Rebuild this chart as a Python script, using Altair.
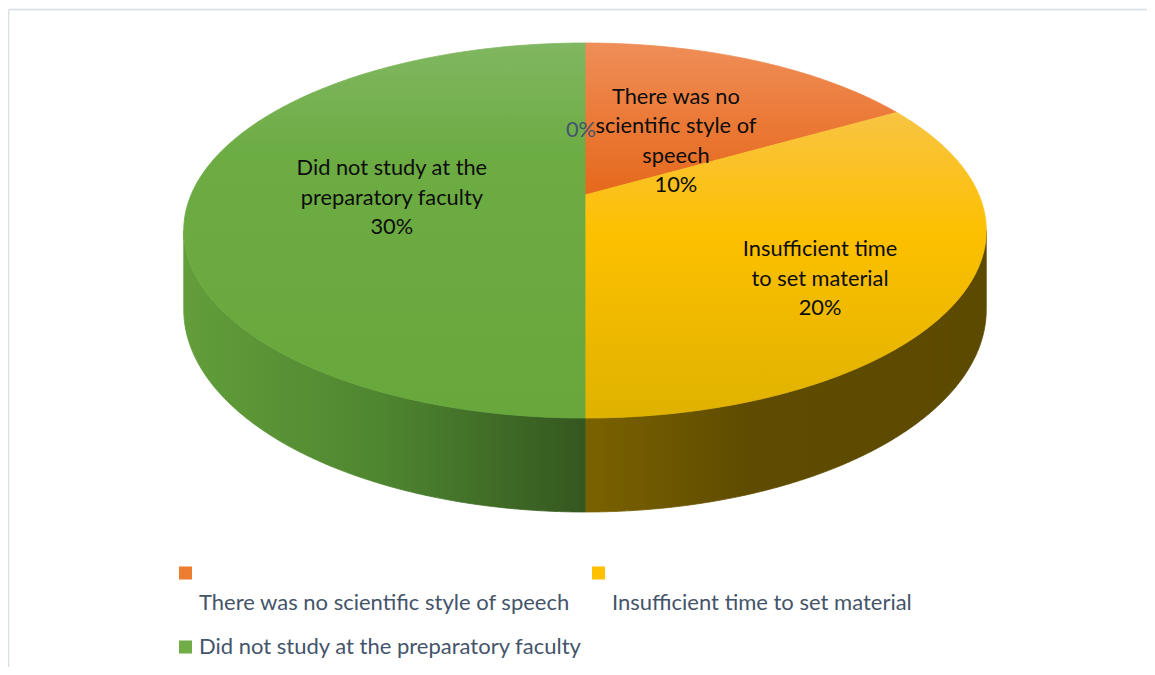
import math
import pandas as pd
import altair as alt

# ---------------- data ----------------
categories = [
    "",
    "There was no scientific style of speech",
    "Insufficient time to set material",
    "Did not study at the preparatory faculty",
]
values = [0, 10, 20, 30]
pct_labels = ["0%", "10%", "20%", "30%"]
label_lines = [
    [],
    ["There was no", "scientific style of", "speech"],
    ["Insufficient time", "to set material"],
    ["Did not study at the", "preparatory faculty"],
]
legend_entries = [1, 2, 3]  # categories shown in the legend

# ---------------- style / layout ----------------
FONT = "Lato"
FS = 21.8
LEG_FS = 22
LH = 29.5
top_fill = {
    1: [("#EF8E58", 0.0), ("#EB7A38", 0.5), ("#E5691C", 1.0)],
    2: [("#F8C443", 0.0), ("#FDC000", 0.4), ("#DFB200", 1.0)],
    3: [("#80B761", 0.0), ("#6CAC43", 0.3), ("#67A73C", 1.0)],
}
side_fill = {
    2: [("#7B6200", 0.0), ("#5F4C00", 0.4), ("#5C4A00", 1.0)],
    3: [("#629E3A", 0.0), ("#4E8530", 0.5), ("#34571F", 1.0)],
}
swatch = {1: "#ED7D31", 2: "#FFC000", 3: "#70AD47"}

# perspective pie model (screen pixels)
CX, CY = 585.0, 195.0
AX, AY = 394.0, -143.86
K = 0.18933
DEPTH = 76.2
label_r = [0.386, 0.40, 0.695, 0.489]
label_shift = [1.6, -7.7, -7.9, 1.9]


def proj(u, v, drop=False):
    s = 1.0 + K * v
    x = CX + AX * u / s
    y = (AY * v + CY) / s
    if drop:
        y += DEPTH / s
    return x, y


def ang(c):
    t = math.radians(90.0 - c)
    return math.cos(t), math.sin(t)


total = float(sum(values))
starts, ends = [], []
acc = 0.0
for v in values:
    starts.append(acc / total * 360.0)
    acc += v
    ends.append(acc / total * 360.0)

rows = []
vis_lo = 90.0 + math.degrees(math.asin(K))
vis_hi = 270.0 - math.degrees(math.asin(K))


def arc(c0, c1):
    n = max(2, int(abs(c1 - c0) * 2) + 1)
    return [c0 + (c1 - c0) * i / (n - 1) for i in range(n)]


for k in range(len(values)):
    if values[k] <= 0:
        continue
    c0, c1 = starts[k], ends[k]
    # top face
    pts = [proj(0.0, 0.0)] + [proj(*ang(c)) for c in arc(c0, c1)]
    pts.append(pts[0])
    for i, (x, y) in enumerate(pts):
        rows.append({"shape": f"top{k}", "i": i, "x": x, "y": y})
    # visible side wall
    a, b = max(c0, vis_lo), min(c1, vis_hi)
    if b > a:
        cs = arc(a, b)
        pts = [proj(*ang(c)) for c in cs] + [proj(*ang(c), drop=True) for c in reversed(cs)]
        pts.append(pts[0])
        for i, (x, y) in enumerate(pts):
            rows.append({"shape": f"side{k}", "i": i, "x": x, "y": y})

poly = pd.DataFrame(rows)

W, H = 1139, 659
X = alt.X("x:Q", scale=alt.Scale(domain=[8, 8 + W], nice=False, zero=False), axis=None)
Y = alt.Y("y:Q", scale=alt.Scale(domain=[8, 8 + H], nice=False, zero=False, reverse=True), axis=None)


def grad(stops, vertical):
    g = dict(gradient="linear", stops=[alt.GradientStop(color=c, offset=o) for c, o in stops])
    if vertical:
        g.update(x1=0, y1=0, x2=0, y2=1)
    else:
        g.update(x1=0, y1=0, x2=1, y2=0)
    return alt.LinearGradient(**g)


base = alt.Chart(poly).encode(x=X, y=Y, order=alt.Order("i:Q"))
layers = []
for k, st in side_fill.items():
    g = grad(st, False)
    layers.append(
        base.transform_filter(alt.datum.shape == f"side{k}").mark_line(
            fill=g, stroke=g, strokeWidth=0.8, strokeJoin="round"
        )
    )
for k, st in top_fill.items():
    g = grad(st, True)
    layers.append(
        base.transform_filter(alt.datum.shape == f"top{k}").mark_line(
            fill=g, stroke=g, strokeWidth=0.8, strokeJoin="round"
        )
    )

# data labels (y = first line, so that the text block is centred on the anchor)
lab_rows = []
for k in range(len(values)):
    mid = (starts[k] + ends[k]) / 2.0
    t = math.radians(90.0 - mid + label_shift[k])
    x, y = proj(label_r[k] * math.cos(t), label_r[k] * math.sin(t))
    lines = label_lines[k] + [pct_labels[k]]
    y -= (len(lines) - 1) * LH / 2.0
    lab_rows.append({"x": x, "y": y, "t": "\n".join(lines),
                     "c": "#0D0D0D" if categories[k] else "#44546A"})
labels = alt.Chart(pd.DataFrame(lab_rows)).mark_text(
    font=FONT, fontSize=FS, lineBreak="\n", lineHeight=LH, align="center", baseline="middle"
).encode(x=X, y=Y, text="t:N", color=alt.Color("c:N", scale=None))
layers.append(labels)

# legend (custom, 2 columns with wrapped labels)
marker_xy = [(185.5, 573), (598.5, 573), (185.5, 647)]
text_xy = [(199, 603), (612, 603), (199, 647)]
leg_m = pd.DataFrame(
    [{"x": marker_xy[j][0], "y": marker_xy[j][1], "c": swatch[k]} for j, k in enumerate(legend_entries)]
)
leg_t = pd.DataFrame(
    [{"x": text_xy[j][0], "y": text_xy[j][1], "t": categories[k]} for j, k in enumerate(legend_entries)]
)
layers.append(
    alt.Chart(leg_m).mark_square(size=170, opacity=1).encode(x=X, y=Y, color=alt.Color("c:N", scale=None))
)
layers.append(
    alt.Chart(leg_t).mark_text(font=FONT, fontSize=LEG_FS, align="left", baseline="middle", color="#44546A").encode(
        x=X, y=Y, text="t:N"
    )
)

# frame (top and left edges visible)
frame = pd.DataFrame([
    {"x": 8.5, "y": 9.5, "x2": 1160, "y2": 9.5},
    {"x": 8.5, "y": 9.5, "x2": 8.5, "y2": 680},
])
layers.append(
    alt.Chart(frame).mark_rule(color="#D9DDE4", strokeWidth=1.5).encode(x=X, y=Y, x2="x2:Q", y2="y2:Q")
)

chart = (
    alt.layer(*layers)
    .properties(width=W, height=H, padding=0, autosize="none", background="white")
    .configure_view(stroke="transparent")
)
chart.save("out.html", embed_options={"renderer": "svg", "actions": False})
